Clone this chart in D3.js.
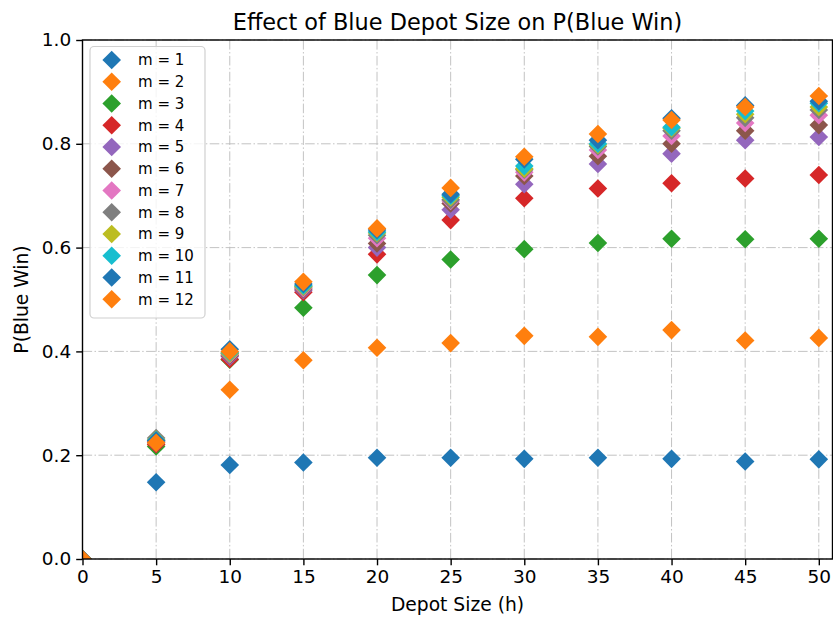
<!DOCTYPE html>
<html>
<head>
<meta charset="utf-8">
<script src="https://cdn.jsdelivr.net/npm/d3@7"></script>
<style>
  html, body { margin: 0; padding: 0; background: #fff; }
  svg { display: block; font-family: "DejaVu Sans", sans-serif; }
</style>
</head>
<body>
<svg id="chart" width="833" height="617"></svg>
<script>
const depotSizes = [0, 5, 10, 15, 20, 25, 30, 35, 40, 45, 50];
const seriesLabels = ["m = 1","m = 2","m = 3","m = 4","m = 5","m = 6","m = 7","m = 8","m = 9","m = 10","m = 11","m = 12"];
const m1  = [0, 0.148, 0.181, 0.186, 0.195, 0.195, 0.193, 0.195, 0.193, 0.188, 0.192];
const m2  = [0, 0.220, 0.326, 0.383, 0.407, 0.416, 0.430, 0.428, 0.441, 0.421, 0.426];
const m3  = [0, 0.217, 0.384, 0.484, 0.547, 0.577, 0.597, 0.609, 0.617, 0.616, 0.617];
const m4  = [0, 0.221, 0.385, 0.514, 0.587, 0.653, 0.695, 0.714, 0.724, 0.733, 0.740];
const m5  = [0, 0.224, 0.390, 0.518, 0.600, 0.673, 0.722, 0.761, 0.781, 0.807, 0.813];
const m6  = [0, 0.226, 0.392, 0.520, 0.608, 0.685, 0.738, 0.776, 0.800, 0.825, 0.836];
const m7  = [0, 0.228, 0.394, 0.522, 0.618, 0.690, 0.745, 0.788, 0.815, 0.840, 0.855];
const m8  = [0, 0.233, 0.396, 0.524, 0.624, 0.692, 0.750, 0.795, 0.825, 0.850, 0.865];
const m9  = [0, 0.230, 0.396, 0.525, 0.628, 0.697, 0.752, 0.798, 0.830, 0.857, 0.871];
const m10 = [0, 0.229, 0.398, 0.527, 0.630, 0.700, 0.757, 0.800, 0.832, 0.863, 0.878];
const m11 = [0, 0.228, 0.404, 0.530, 0.634, 0.703, 0.770, 0.807, 0.849, 0.874, 0.882];
const m12 = [0, 0.224, 0.400, 0.534, 0.637, 0.715, 0.775, 0.819, 0.846, 0.871, 0.892];
const seriesValues = [m1, m2, m3, m4, m5, m6, m7, m8, m9, m10, m11, m12];
const colors = ["#1f77b4","#ff7f0e","#2ca02c","#d62728","#9467bd","#8c564b","#e377c2","#7f7f7f","#bcbd22","#17becf","#1f77b4","#ff7f0e"];
const xTicks = [0, 5, 10, 15, 20, 25, 30, 35, 40, 45, 50];
const yTicks = [0, 0.2, 0.4, 0.6, 0.8, 1.0];
const titleText = "Effect of Blue Depot Size on P(Blue Win)";
const xLabelText = "Depot Size (h)";
const yLabelText = "P(Blue Win)";

const svg = d3.select("#chart");
const pLeft = 82.5, pRight = 832.5, pTop = 40, pBottom = 559;
const x = d3.scaleLinear().domain([0, 50.93]).range([pLeft, pRight]);
const y = d3.scaleLinear().domain([0, 1]).range([pBottom, pTop]);

svg.append("defs").append("clipPath").attr("id", "plotclip")
  .append("rect").attr("x", pLeft).attr("y", pTop).attr("width", pRight - pLeft).attr("height", pBottom - pTop);

// grid
const grid = svg.append("g");
const dash = "9.6,2.4,1.5,2.4";
grid.selectAll(".gx").data(xTicks).enter().append("line")
  .attr("x1", d => x(d)).attr("x2", d => x(d)).attr("y1", pTop).attr("y2", pBottom)
  .attr("stroke", "#bcbcbc").attr("stroke-width", 0.9).attr("stroke-dasharray", dash);
grid.selectAll(".gy").data(yTicks).enter().append("line")
  .attr("x1", pLeft).attr("x2", pRight).attr("y1", d => y(d)).attr("y2", d => y(d))
  .attr("stroke", "#bcbcbc").attr("stroke-width", 0.9).attr("stroke-dasharray", dash);

// markers (square rotated 45deg = diamond)
const diamond = d3.symbol().type(d3.symbolSquare).size(2 * 9.3 * 9.3);
const plot = svg.append("g").attr("clip-path", "url(#plotclip)");
seriesValues.forEach((vals, i) => {
  plot.append("g").selectAll("path").data(vals).enter().append("path")
    .attr("d", diamond)
    .attr("transform", (d, j) => `translate(${x(depotSizes[j])},${y(d)}) rotate(45)`)
    .attr("fill", colors[i]);
});

// axes
const xAxis = svg.append("g").attr("transform", `translate(0,${pBottom})`)
  .call(d3.axisBottom(x).tickValues(xTicks).tickFormat(d3.format("d")).tickSizeOuter(0).tickSize(6.3).tickPadding(5));
const yAxis = svg.append("g").attr("transform", `translate(${pLeft},0)`)
  .call(d3.axisLeft(y).tickValues(yTicks).tickFormat(d3.format(".1f")).tickSizeOuter(0).tickSize(6.3).tickPadding(5));
[xAxis, yAxis].forEach(a => {
  a.select(".domain").remove();
  a.selectAll(".tick line").attr("stroke", "#000").attr("stroke-width", 1.4);
  a.selectAll(".tick text").attr("fill", "#000").attr("font-size", "18.5px").attr("font-family", "DejaVu Sans");
});

// spines
svg.append("rect").attr("x", pLeft).attr("y", pTop).attr("width", pRight - pLeft).attr("height", pBottom - pTop)
  .attr("fill", "none").attr("stroke", "#000").attr("stroke-width", 1.4);

// title and labels
svg.append("text").attr("x", (pLeft + pRight) / 2).attr("y", 30).attr("text-anchor", "middle")
  .attr("font-size", "22.4px").attr("fill", "#000").text(titleText);
svg.append("text").attr("x", (pLeft + pRight) / 2).attr("y", 611).attr("text-anchor", "middle")
  .attr("font-size", "18.7px").attr("fill", "#000").text(xLabelText);
svg.append("text").attr("transform", `translate(28,${(pTop + pBottom) / 2}) rotate(-90)`).attr("text-anchor", "middle")
  .attr("font-size", "18.7px").attr("fill", "#000").text(yLabelText);

// legend
const lg = svg.append("g");
lg.append("rect").attr("x", 90).attr("y", 46.5).attr("width", 115).attr("height", 271.5).attr("rx", 4)
  .attr("fill", "#fff").attr("fill-opacity", 0.8).attr("stroke", "#d0d0d0").attr("stroke-width", 1.2);
seriesLabels.forEach((lab, i) => {
  const cy = 60 + i * 21.75;
  lg.append("path").attr("d", diamond).attr("transform", `translate(111.7,${cy}) rotate(45)`).attr("fill", colors[i]);
  lg.append("text").attr("x", 138).attr("y", cy + 5.4).attr("font-size", "15px").attr("fill", "#000").text(lab);
});
</script>
</body>
</html>
